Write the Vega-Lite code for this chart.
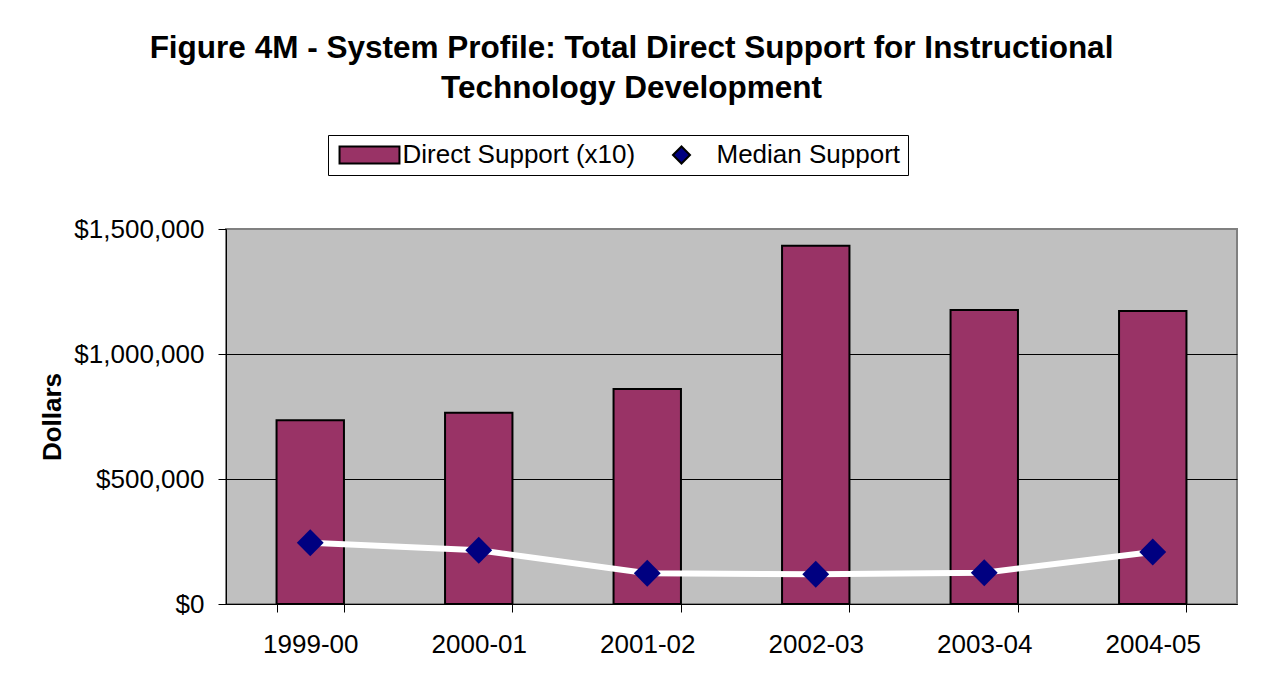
{
  "$schema": "https://vega.github.io/schema/vega-lite/v6.json",
  "width": 1011,
  "height": 375,
  "autosize": {"type": "none"},
  "padding": {"left": 226, "top": 229, "right": 26, "bottom": 81},
  "background": "white",
  "title": {
    "text": ["Figure 4M - System Profile: Total Direct Support for Instructional", "Technology Development"],
    "font": "Liberation Sans",
    "fontSize": 31.5,
    "fontWeight": "bold",
    "color": "black",
    "anchor": "middle",
    "frame": "group",
    "dx": -100,
    "offset": 30,
    "lineHeight": 40
  },
  "config": {
    "font": "Liberation Sans",
    "view": {"fill": "#C0C0C0", "stroke": "#808080", "strokeWidth": 2}
  },
  "data": {
    "values": [
      {"year": "1999-00", "direct": 735000, "median": 245000},
      {"year": "2000-01", "direct": 765000, "median": 215000},
      {"year": "2001-02", "direct": 860000, "median": 123000},
      {"year": "2002-03", "direct": 1433000, "median": 119000},
      {"year": "2003-04", "direct": 1176000, "median": 125000},
      {"year": "2004-05", "direct": 1172000, "median": 208000}
    ]
  },
  "encoding": {
    "x": {
      "field": "year",
      "type": "ordinal",
      "scale": {"paddingInner": 0.6, "paddingOuter": 0.3},
      "axis": {
        "title": null,
        "labelAngle": 0,
        "tickBand": "extent",
        "tickSize": 8,
        "tickColor": "black",
        "domainColor": "black",
        "labelFontSize": 26,
        "labelColor": "black",
        "labelPadding": 19,
        "grid": false
      }
    }
  },
  "layer": [
    {
      "mark": {"type": "bar", "stroke": "black", "strokeWidth": 2},
      "encoding": {
        "y": {
          "field": "direct",
          "type": "quantitative",
          "scale": {"domain": [0, 1500000], "nice": false},
          "axis": {
            "title": "Dollars",
            "values": [0, 500000, 1000000, 1500000],
            "format": "$,.0f",
            "tickSize": 8,
            "tickColor": "black",
            "domainColor": "black",
            "labelFontSize": 26,
            "labelColor": "black",
            "labelPadding": 14,
            "titleFontSize": 26,
            "titleFontWeight": "bold",
            "titleColor": "black",
            "titlePadding": 8,
            "gridColor": {"condition": {"test": "datum.value >= 1500000", "value": "#808080"}, "value": "black"},
            "gridOpacity": 1
          }
        },
        "color": {
          "datum": "Direct Support (x10)",
          "type": "nominal",
          "scale": {"domain": ["Direct Support (x10)", "Median Support"], "range": ["#993366", "#000080"]},
          "legend": {
            "title": null,
            "orient": "none",
            "legendX": 102,
            "legendY": -94,
            "direction": "horizontal",
            "strokeColor": "black",
            "fillColor": "white",
            "padding": 7,
            "symbolSize": 289,
            "symbolOffset": 19.5,
            "labelOffset": 22,
            "labelLimit": 400,
            "columnPadding": 13,
            "labelFontSize": 26,
            "labelColor": "black",
            "symbolStrokeWidth": 2,
            "symbolOpacity": 1,
            "encode": {"symbols": {"update": {"stroke": {"signal": "datum.value === 'Direct Support (x10)' ? 'black' : 'transparent'"}}}}
          }
        }
      }
    },
    {
      "mark": {"type": "line", "color": "white", "strokeWidth": 6},
      "encoding": {
        "y": {"field": "median", "type": "quantitative", "title": "Dollars"}
      }
    },
    {
      "mark": {"type": "point", "filled": true, "size": 720, "opacity": 1},
      "encoding": {
        "y": {"field": "median", "type": "quantitative", "title": "Dollars"},
        "color": {"datum": "Median Support", "type": "nominal"},
        "shape": {
          "datum": "Median Support",
          "type": "nominal",
          "scale": {"domain": ["Direct Support (x10)", "Median Support"], "range": ["M-3.29,-1L3.76,-1L3.76,1L-3.29,1Z", "diamond"]},
          "legend": {
            "title": null,
            "orient": "none",
            "legendX": 102,
            "legendY": -94,
            "direction": "horizontal",
            "strokeColor": "black",
            "fillColor": "white",
            "padding": 7,
            "symbolSize": 289,
            "symbolOffset": 19.5,
            "labelOffset": 22,
            "labelLimit": 400,
            "columnPadding": 13,
            "labelFontSize": 26,
            "labelColor": "black",
            "symbolStrokeWidth": 2,
            "symbolOpacity": 1,
            "encode": {"symbols": {"update": {"stroke": {"signal": "datum.value === 'Direct Support (x10)' ? 'black' : 'transparent'"}}}}
          }
        }
      }
    }
  ]
}
